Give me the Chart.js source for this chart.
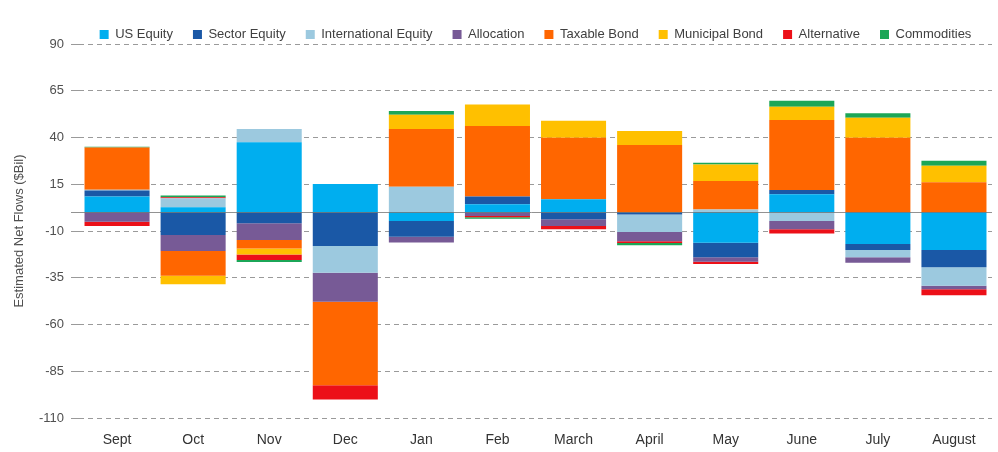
<!DOCTYPE html>
<html>
<head>
<meta charset="utf-8">
<script src="https://cdn.jsdelivr.net/npm/chart.js@4.4.1/dist/chart.umd.min.js"></script>
<style>
  html, body { margin: 0; padding: 0; background: #ffffff; }
  #wrap { width: 998px; height: 452px; }
</style>
</head>
<body>
<div id="wrap"><canvas id="c" width="998" height="452"></canvas></div>
<script>
const categories = ['Sept','Oct','Nov','Dec','Jan','Feb','March','April','May','June','July','August'];
const usEquity      = [8.4, 2.7, 37.5, 15.2, -4.7, 4.3, 7.0, 0, -16.3, 9.6, -17.0, -20.2];
const sectorEquity  = [3.2, -12.2, -5.9, -18.0, -8.4, 4.1, -3.7, -1.2, -7.8, 2.3, -3.2, -9.2];
const intlEquity    = [0.5, 4.8, 7.1, -14.3, 13.7, 0, 0, -9.3, 1.5, -4.7, -3.9, -9.9];
const allocation    = [-5.0, -8.5, -8.9, -15.6, -3.0, -2.0, -3.6, -5.0, -2.3, -4.4, -2.9, -1.8];
const taxableBond   = [22.5, -13.2, -4.5, -44.6, 30.9, 37.8, 32.9, 36.0, 15.3, 37.5, 39.9, 16.1];
const municipalBond = [0, -4.6, -3.2, 0, 7.5, 11.4, 9.0, 7.5, 8.8, 7.1, 10.7, 8.8];
const alternative   = [-2.3, 0.6, -3.0, -7.6, 0, -0.7, -1.8, -0.9, -1.3, -2.2, 0, -3.2];
const commodities   = [0.5, 0.9, -1.1, 0, 2.1, -0.7, 0, -1.2, 0.9, 3.1, 2.4, 2.7];
const yTicks = [-110, -85, -60, -35, -10, 15, 40, 65, 90];

const seriesNames = ['US Equity','Sector Equity','International Equity','Allocation','Taxable Bond','Municipal Bond','Alternative','Commodities'];
const seriesData = [usEquity, sectorEquity, intlEquity, allocation, taxableBond, municipalBond, alternative, commodities];
const seriesColors = ['#00AEEF','#1A58A6','#9CC9DF','#775A96','#FF6600','#FFC000','#EC1018','#1BA657'];

const FONT = "'Liberation Sans', Arial, sans-serif";

const zeroLine = {
  id: 'zeroLine',
  afterDatasetsDraw(chart) {
    const y = chart.scales.y.getPixelForValue(0);
    const a = chart.chartArea;
    const ctx = chart.ctx;
    ctx.save();
    ctx.strokeStyle = 'rgba(110,110,110,0.75)';
    ctx.lineWidth = 1;
    ctx.beginPath();
    ctx.moveTo(a.left - 8, Math.round(y) + 0.5);
    ctx.lineTo(a.right, Math.round(y) + 0.5);
    ctx.stroke();
    ctx.restore();
  }
};

// keep the legend band compact (fixed height) while using the library legend
const legendHeight = {
  id: 'legendHeight',
  afterInit(chart) {
    const lg = chart.legend;
    if (!lg) return;
    const origFit = lg.fit.bind(lg);
    lg.fit = function () { origFit(); this.height = 36; };
  }
};

new Chart(document.getElementById('c'), {
  type: 'bar',
  data: {
    labels: categories,
    datasets: seriesNames.map((n, i) => ({
      label: n,
      data: seriesData[i],
      backgroundColor: seriesColors[i],
      borderWidth: 0,
      barPercentage: 0.855,
      categoryPercentage: 1.0
    }))
  },
  options: {
    responsive: false,
    animation: false,
    layout: { padding: { top: 8, left: 0, right: 6, bottom: 4 } },
    plugins: {
      legend: {
        position: 'top',
        fullSize: false,
        labels: {
          boxWidth: 9, boxHeight: 9, padding: 20,
          color: '#404040',
          font: { family: FONT, size: 13 }
        }
      },
      tooltip: { enabled: false }
    },
    scales: {
      x: {
        stacked: true,
        afterFit(scale) { scale.height = 30; },
        grid: { display: false, drawTicks: false, tickLength: 0 },
        border: { display: false },
        ticks: { color: '#333333', padding: 14, font: { family: FONT, size: 14 } }
      },
      y: {
        stacked: true,
        min: -110, max: 90,
        afterFit(scale) { scale.width = 79; },
        afterBuildTicks(scale) { scale.ticks = yTicks.map(v => ({ value: v })); },
        grid: { color: '#9a9a9a', lineWidth: 1, tickLength: 8, drawTicks: true },
        border: { display: false, dash: [5, 4] },
        ticks: { color: '#505050', padding: 7, font: { family: FONT, size: 13 } },
        title: {
          display: true,
          text: 'Estimated Net Flows ($Bil)',
          color: '#505050',
          padding: { top: 12, bottom: 0 },
          font: { family: FONT, size: 13 }
        }
      }
    }
  },
  plugins: [zeroLine, legendHeight]
});
</script>
</body>
</html>
